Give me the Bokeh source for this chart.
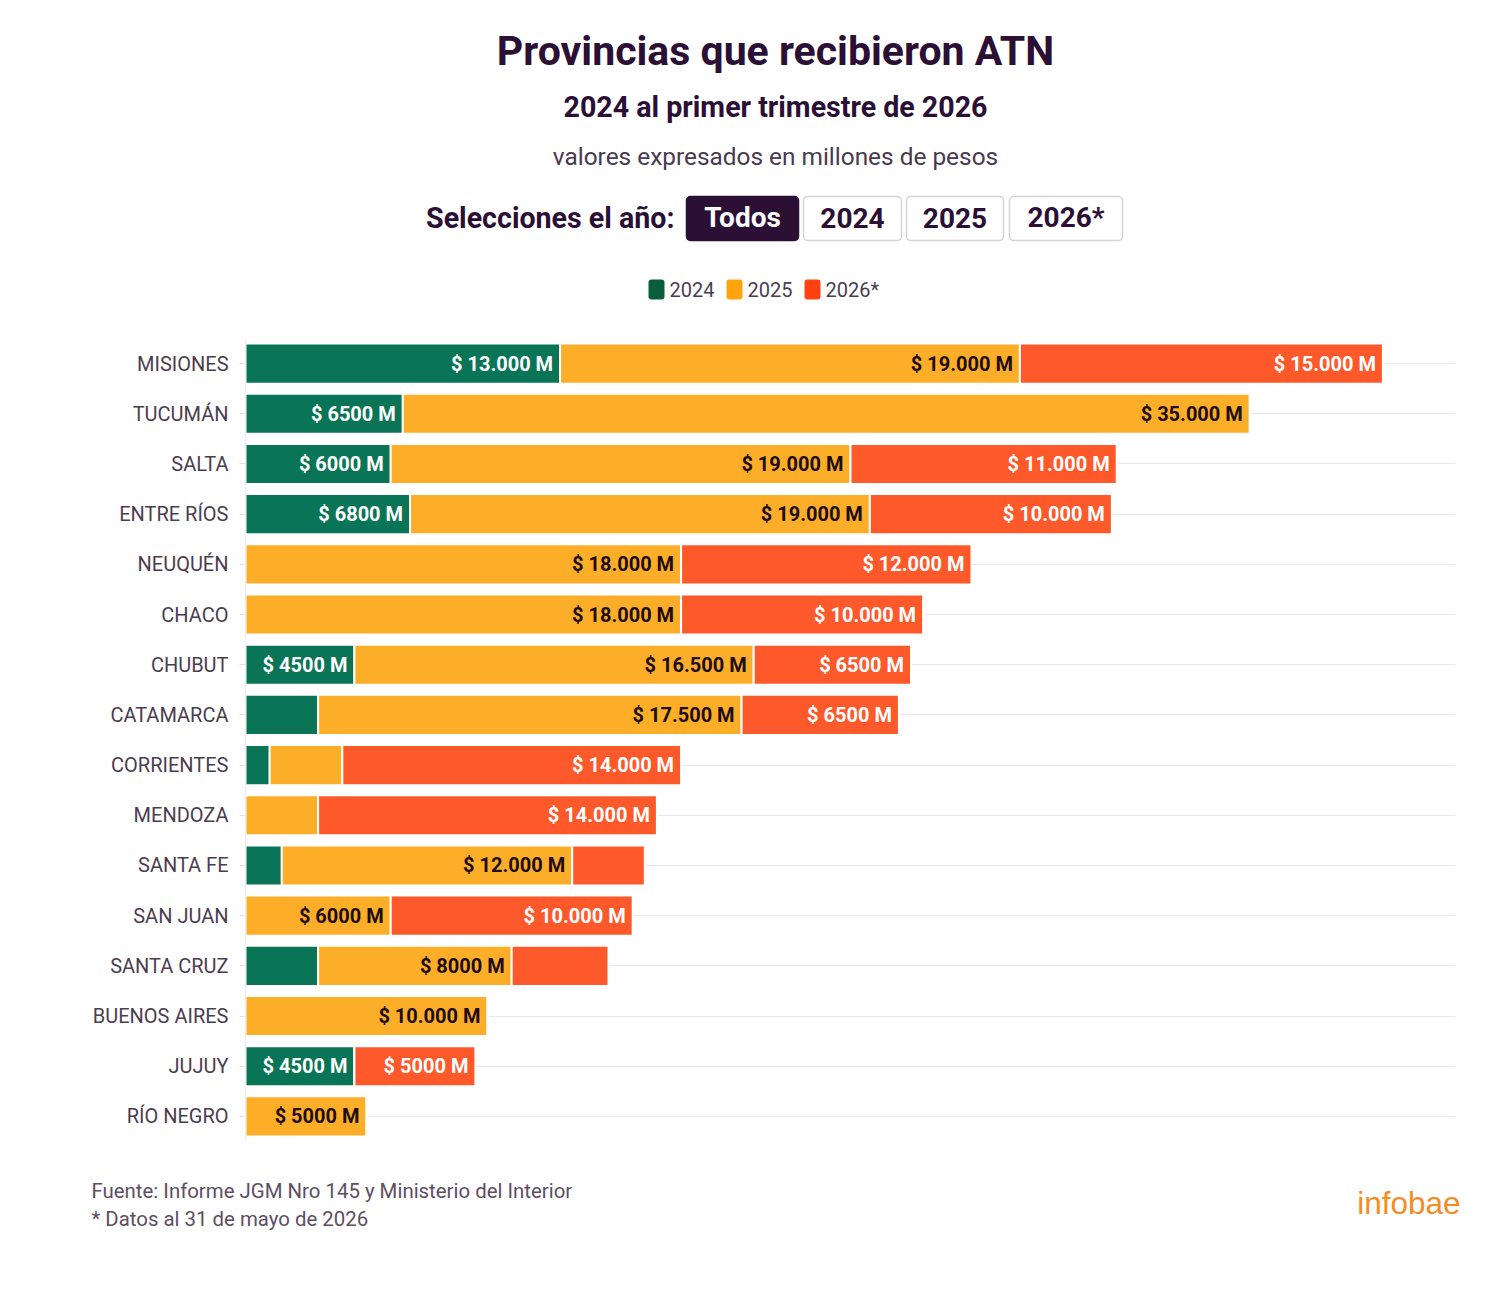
from bokeh.plotting import figure
from bokeh.layouts import column
from bokeh.models import ColumnDataSource, FactorRange, Range1d
from bokeh.core.properties import value
from bokeh.embed import file_html
from bokeh.resources import INLINE

# ATN transfers by province, millions of pesos
provincias = ["MISIONES", "TUCUMÁN", "SALTA", "ENTRE RÍOS", "NEUQUÉN", "CHACO",
              "CHUBUT", "CATAMARCA", "CORRIENTES", "MENDOZA", "SANTA FE",
              "SAN JUAN", "SANTA CRUZ", "BUENOS AIRES", "JUJUY", "RÍO NEGRO"]
v2024 = [13000, 6500, 6000, 6800, 0, 0, 4500, 3000, 1000, 0, 1500, 0, 3000, 0, 4500, 0]
v2025 = [19000, 35000, 19000, 19000, 18000, 18000, 16500, 17500, 3000, 3000,
         12000, 6000, 8000, 10000, 0, 5000]
v2026 = [15000, 0, 11000, 10000, 12000, 10000, 6500, 6500, 14000, 14000,
         3000, 10000, 4000, 0, 5000, 0]
series = ["2024", "2025", "2026*"]
year_buttons = ["Todos", "2024", "2025", "2026*"]

FONT = "Roboto"
DARK = "#2b0f35"
AXIS_TXT = "#4b3d50"
COLORS = ["#0a7556", "#fcae28", "#fe592b"]
KEY_COLORS = ["#0b5e3c", "#ffa40c", "#ff4010"]
LABEL_COLORS = ["#ffffff", "#1e0c10", "#ffffff"]

W = 1500
HEAD_H = 338      # header band: titles, selector, legend
MAIN_H = 813      # bar chart
FOOT_H = 1303 - HEAD_H - MAIN_H


def fmt(v):
    if v >= 10000:
        return "$ {:,} M".format(v).replace(",", ".")
    return "$ {} M".format(v)


def band(height, y0):
    """A plain drawing band whose data units are page pixels (y grows downward)."""
    f = figure(width=W, height=height, output_backend="svg", toolbar_location=None,
               tools="", x_range=Range1d(0, W), y_range=Range1d(y0 + height, y0),
               x_axis_location=None, y_axis_location=None, min_border=0)
    f.title = None
    f.frame_align = False
    f.grid.visible = False
    f.outline_line_color = None
    f.background_fill_color = "white"
    f.border_fill_color = "white"
    return f


def put(f, text, x, y, size, color=DARK, style="normal", align="center", font=FONT):
    f.text(x=[x], y=[y], text=[text], text_font=value(font), text_font_size=size,
           text_font_style=style, text_color=color, text_align=align,
           text_baseline="middle")


# ---------- header ----------
head = band(HEAD_H, 0)
put(head, "Provincias que recibieron ATN", 775, 50, "41px", style="bold")
put(head, "2024 al primer trimestre de 2026", 775, 106, "28.6px", style="bold")
put(head, "valores expresados en millones de pesos", 775, 156, "24.4px", color="#4a3a4f")
put(head, "Selecciones el año:", 674, 217, "28.6px", style="bold", align="right")

btn_left = [686, 803, 906, 1009]
btn_right = [798, 901, 1003, 1122]
for i, name in enumerate(year_buttons):
    active = i == 0
    head.quad(left=[btn_left[i]], right=[btn_right[i]], top=[196], bottom=[240],
              fill_color=DARK if active else "white",
              line_color=DARK if active else "#d4d4d4", line_width=1.5,
              border_radius=4)
    put(head, name, (btn_left[i] + btn_right[i]) / 2, 217, "28px", style="bold",
        color="white" if active else DARK)

# legend: rounded colour keys followed by the series names
key_left = [648, 726, 804]
for i, s in enumerate(series):
    head.quad(left=[key_left[i]], right=[key_left[i] + 16], top=[279], bottom=[299],
              fill_color=KEY_COLORS[i], line_color=None, border_radius=3)
    put(head, s, key_left[i] + 21, 289, "20px", color=AXIS_TXT, align="left")

# ---------- bar chart ----------
src = ColumnDataSource(dict(prov=provincias, v2024=v2024, v2025=v2025, v2026=v2026))

p = figure(width=W, height=MAIN_H, output_backend="svg", toolbar_location=None, tools="",
           y_range=FactorRange(factors=list(reversed(provincias))),
           x_range=(0, 50000), x_axis_location=None,
           min_border_left=245, min_border_right=45, min_border_top=0,
           min_border_bottom=MAIN_H - 803)
p.title = None
p.frame_align = False
p.outline_line_color = None
p.background_fill_color = "white"
p.border_fill_color = "white"

p.hbar_stack(["v2024", "v2025", "v2026"], y="prov", height=0.8,
             color=COLORS, source=src, line_color="white", line_width=2)

# value labels at the right end of each segment
lx, ly, lt, lc = [], [], [], []
for i, prov in enumerate(provincias):
    start = 0
    for k, vals in enumerate((v2024, v2025, v2026)):
        v = vals[i]
        if v >= 4500:
            lx.append(start + v)
            ly.append(prov)
            lt.append(fmt(v))
            lc.append(LABEL_COLORS[k])
        start += v
lab = ColumnDataSource(dict(x=lx, y=ly, t=lt, c=lc))
p.text(x="x", y="y", text="t", source=lab, text_align="right", text_baseline="middle",
       x_offset=-7, text_font=value(FONT), text_font_style="bold",
       text_font_size="20px", text_color="c")

p.xgrid.grid_line_color = None
p.ygrid.grid_line_color = "#e8e8e8"
p.ygrid.grid_line_width = 1
yax = p.yaxis[0]
yax.axis_line_color = "#ececec"
yax.major_tick_line_color = "#e4e4e4"
yax.major_tick_out = 6
yax.major_tick_in = 0
yax.minor_tick_line_color = None
yax.major_label_standoff = 11
yax.major_label_text_font = FONT
yax.major_label_text_font_size = "20px"
yax.major_label_text_color = AXIS_TXT

# ---------- footer ----------
foot = band(FOOT_H, HEAD_H + MAIN_H)
put(foot, "Fuente: Informe JGM Nro 145 y Ministerio del Interior", 91, 1190, "20.4px",
    color="#5e4e62", align="left")
put(foot, "* Datos al 31 de mayo de 2026", 91, 1218, "20.4px", color="#5e4e62", align="left")
put(foot, "infobae", 1460, 1202, "31.5px", color="#f68b1f", align="right",
    font="Liberation Sans")

page = column(head, p, foot, spacing=0)
open("out.html", "w").write(file_html(page, INLINE))
